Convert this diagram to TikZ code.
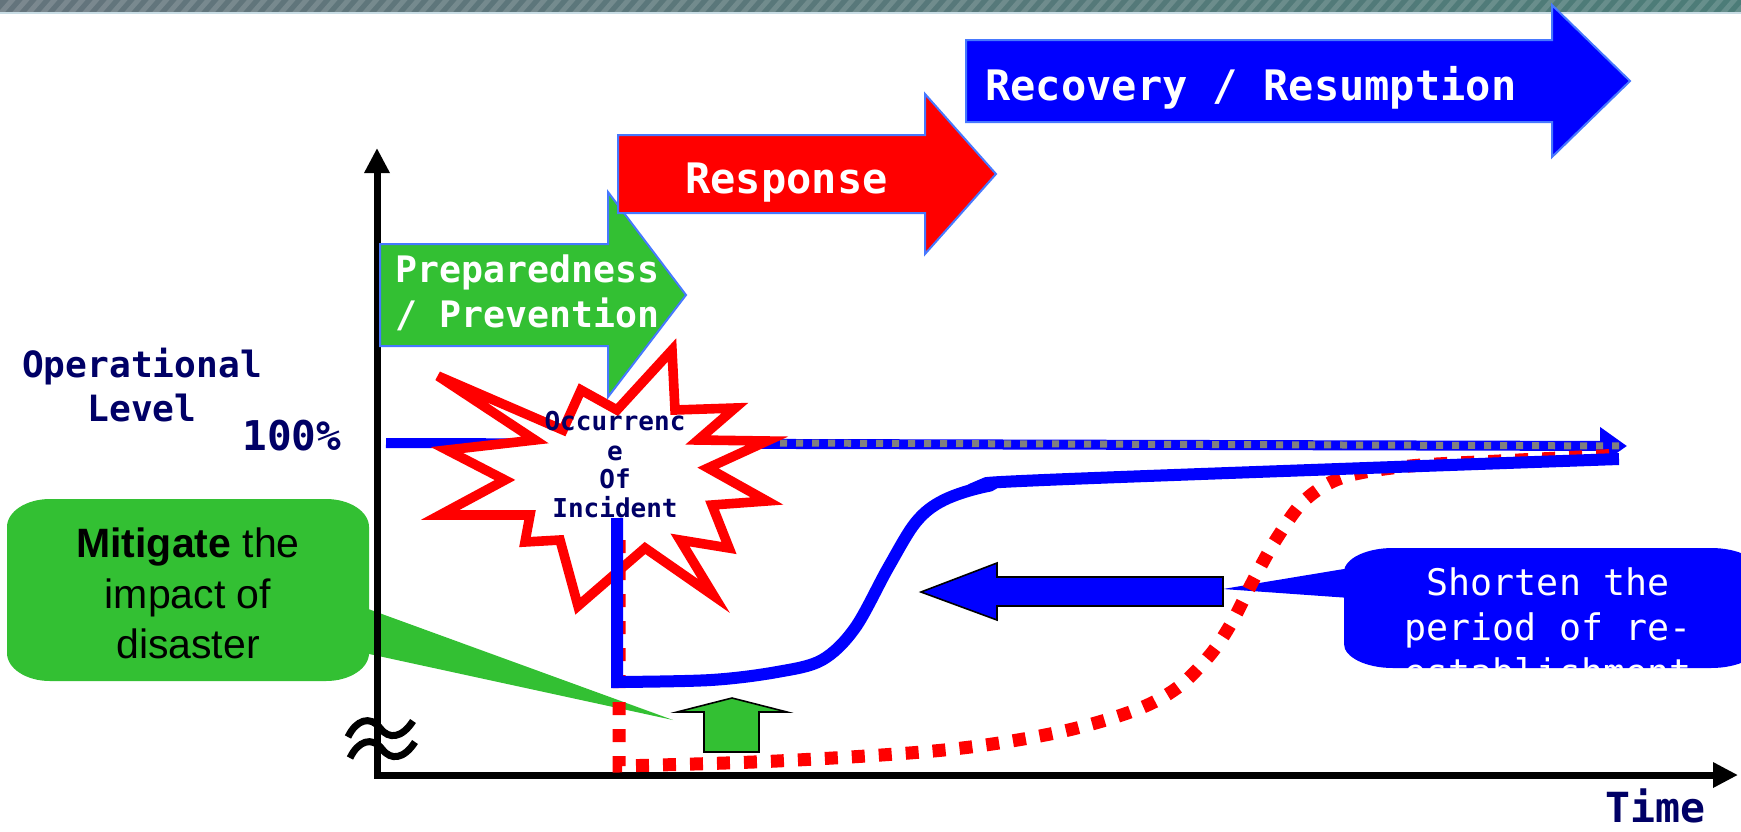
\documentclass[tikz,border=0pt]{standalone}
\usepackage{fontspec}
\newfontfamily\labelfont{DejaVu Sans Mono}
\newfontfamily\calloutfont{Liberation Sans}
\usetikzlibrary{arrows.meta}

\definecolor{navytext}{RGB}{0,0,102}
\definecolor{phasegreen}{RGB}{51,192,51}
\definecolor{phaseedge}{RGB}{70,120,255}
\definecolor{bandgray}{RGB}{100,116,124}
\definecolor{bandmid}{RGB}{124,140,136}
\definecolor{bandteal}{RGB}{76,124,120}
\definecolor{bandline}{RGB}{200,220,228}
\definecolor{dotgray}{RGB}{128,128,128}

\newcommand{\monobold}[1]{\labelfont\bfseries\fontsize{#1}{#1}\selectfont}
\newcommand{\monoreg}[1]{\labelfont\fontsize{#1}{#1}\selectfont}

\begin{document}
\begin{tikzpicture}[x=0.5pt,y=-0.5pt,
  phasearrow/.style={fill=#1, draw=phaseedge, line width=1pt},
  phasetext/.style={text=white, font=\monobold{#1}, anchor=base west, inner sep=0pt},
  axistext/.style={text=navytext, font=\monobold{#1}, inner sep=0pt},
  startext/.style={text=navytext, font=\monobold{13pt}, anchor=base, inner sep=0pt},
  mitigtext/.style={text=black, font=\calloutfont\fontsize{20.5pt}{20.5pt}\selectfont, anchor=base, inner sep=0pt},
  shorttext/.style={text=white, font=\monoreg{18.3pt}, anchor=base, inner sep=0pt},
  axisline/.style={line width=3.5pt, {Triangle[length=12.5pt,width=12pt]}-{Triangle[length=12.5pt,width=12pt]}},
  smallarrow/.style={fill=#1, draw=black, line width=0.8pt},
]
\useasboundingbox (0,0) rectangle (1741,831);
\fill[white] (0,0) rectangle (1741,831);

% striped title band
\shade[left color=bandgray, middle color=bandmid, right color=bandteal] (0,0) rectangle (1741,12);
\begin{scope}
  \clip (0,0) rectangle (1741,12);
  \foreach \s in {0,14,...,1760}
    \draw[white, opacity=0.15, line width=2.5pt] (\s,14) -- ({\s+14},-2);
\end{scope}
\draw[bandline, line width=1pt] (0,12.5) -- (1741,12.5);

% "Mitigate" callout (behind the axis)
\coordinate (mitigtip) at (673,720);
\fill[phasegreen] (360,606) -- (mitigtip) -- (360,652) -- cycle;
\fill[phasegreen] (50,499) -- (326,499) .. controls (349.7,499) and (369,511.5) .. (369,527)
  -- (369,653) .. controls (369,668.5) and (349.7,681) .. (326,681)
  -- (50,681) .. controls (26.3,681) and (7,668.5) .. (7,653)
  -- (7,527) .. controls (7,511.5) and (26.3,499) .. cycle;
\node[mitigtext] (mit1) at (188,557) {\textbf{Mitigate} the};
\node[mitigtext] (mit2) at (188,608) {impact of};
\node[mitigtext] (mit3) at (188,658) {disaster};

% axes
\coordinate (origin) at (377,775);
\coordinate (ytop) at (377,148);
\coordinate (xend) at (1738,775);
\draw[axisline] (ytop) -- (origin) -- (xend);

% axis break mark
\draw[line width=3.5pt] (348,737) .. controls (356,720) and (370,715) .. (380,728)
  .. controls (389,740) and (402,738) .. (413,721);
\draw[line width=3.5pt] (350,758) .. controls (358,741) and (372,736) .. (382,749)
  .. controls (391,761) and (404,759) .. (415,742);

% 100% level line
\coordinate (fullL) at (386,443);
\coordinate (fullR) at (1627,446);
\draw[blue, line width=5pt, -{Triangle[length=13.5pt,width=18pt]}] (fullL) -- (fullR);
\draw[dotgray, line width=3.5pt, dash pattern=on 3.5pt off 4.5pt] (780,443) -- (fullR);

% incident starburst
\draw[red, fill=white, line width=4.8pt]
  (447,450) -- (535,440) -- (438,376) -- (563,430) -- (581,390) -- (617,410)
  -- (672,350) -- (675,410) -- (735,408) -- (698,440) -- (767,441) -- (708,468)
  -- (767,501) -- (712,505) -- (729,548) -- (680,540) -- (714,596) -- (645,548)
  -- (578,606) -- (560,540) -- (525,542) -- (530,515) -- (440,515) -- (505,480) -- cycle;

% "Shorten" callout
\coordinate (shorttip) at (1223,589);
\fill[blue] (1350,568) -- (shorttip) -- (1350,598) -- cycle;
\begin{scope}
  \clip (1393,548) -- (1711,548) .. controls (1738,548) and (1760,558.75) .. (1760,572)
    -- (1760,644) .. controls (1760,657.25) and (1738,668) .. (1711,668)
    -- (1393,668) .. controls (1366,668) and (1344,657.25) .. (1344,644)
    -- (1344,572) .. controls (1344,558.75) and (1366,548) .. cycle;
  \fill[blue] (1340,540) rectangle (1765,675);
  \node[shorttext] (short1) at (1548,595) {Shorten the};
  \node[shorttext] (short2) at (1548,640) {period of re-};
  \node[shorttext] (short3) at (1548,685) {establishment};
\end{scope}

% left-pointing arrow
\draw[smallarrow=blue] (1223,577) -- (997,577) -- (997,563) -- (921,592) -- (997,620)
  -- (997,606) -- (1223,606) -- cycle;

% recovery without preparation
\coordinate (redstart) at (619,540);
\draw[red, line width=6.5pt, dash pattern=on 6.5pt off 7pt] (redstart) -- plot[smooth, tension=0.55] coordinates
  {(619,766) (777,761) (944,750) (1055,733) (1133,711) (1177,688) (1210,655) (1232,622)
   (1255,577) (1277,538) (1305,500) (1344,477) (1410,466) (1499,461) (1621,455)};

% recovery with preparation
\coordinate (bluestart) at (617,518);
\draw[blue, line width=6pt, line join=miter] (bluestart) -- plot[smooth, tension=0.55] coordinates
  {(617,682) (711,680) (777,672) (822,660) (855,628) (888,568) (916,522) (944,500)
   (988,486) (1044,480) (1619,459)};

% upward arrow
\draw[smallarrow=phasegreen] (704,752) -- (704,712) -- (677,712) -- (732,698) -- (787,712)
  -- (759,712) -- (759,752) -- cycle;

% phase arrows
\draw[phasearrow=phasegreen] (380,244) -- (608,244) -- (608,192) -- (686,295) -- (608,397)
  -- (608,346) -- (380,346) -- cycle;
\draw[phasearrow=red] (618,135) -- (925,135) -- (925,94) -- (996,174) -- (925,254)
  -- (925,213) -- (618,213) -- cycle;
\draw[phasearrow=blue] (966,40) -- (1552,40) -- (1552,5) -- (1630,81) -- (1552,157)
  -- (1552,122) -- (966,122) -- cycle;
\node[phasetext=21pt] (recovery) at (985,100) {Recovery / Resumption};
\node[phasetext=21pt] (response) at (685,193) {Response};
\node[phasetext=18.25pt] (prep1) at (395,282) {Preparedness};
\node[phasetext=18.25pt] (prep2) at (395,327) {/ Prevention};

% axis labels
\node[axistext=18.1pt, anchor=base] (oplevel1) at (142,377) {Operational};
\node[axistext=18.1pt, anchor=base] (oplevel2) at (142,421) {Level};
\node[axistext=20.5pt, anchor=base west] (pct) at (242,450) {100\%};
\node[axistext=20.75pt, anchor=base west] (timelbl) at (1605,822) {Time};

% starburst label
\node[startext] (occ1) at (615,430) {Occurrenc};
\node[startext] (occ2) at (615,460) {e};
\node[startext] (occ3) at (615,488) {Of};
\node[startext] (occ4) at (615,517) {Incident};
\end{tikzpicture}
\end{document}
